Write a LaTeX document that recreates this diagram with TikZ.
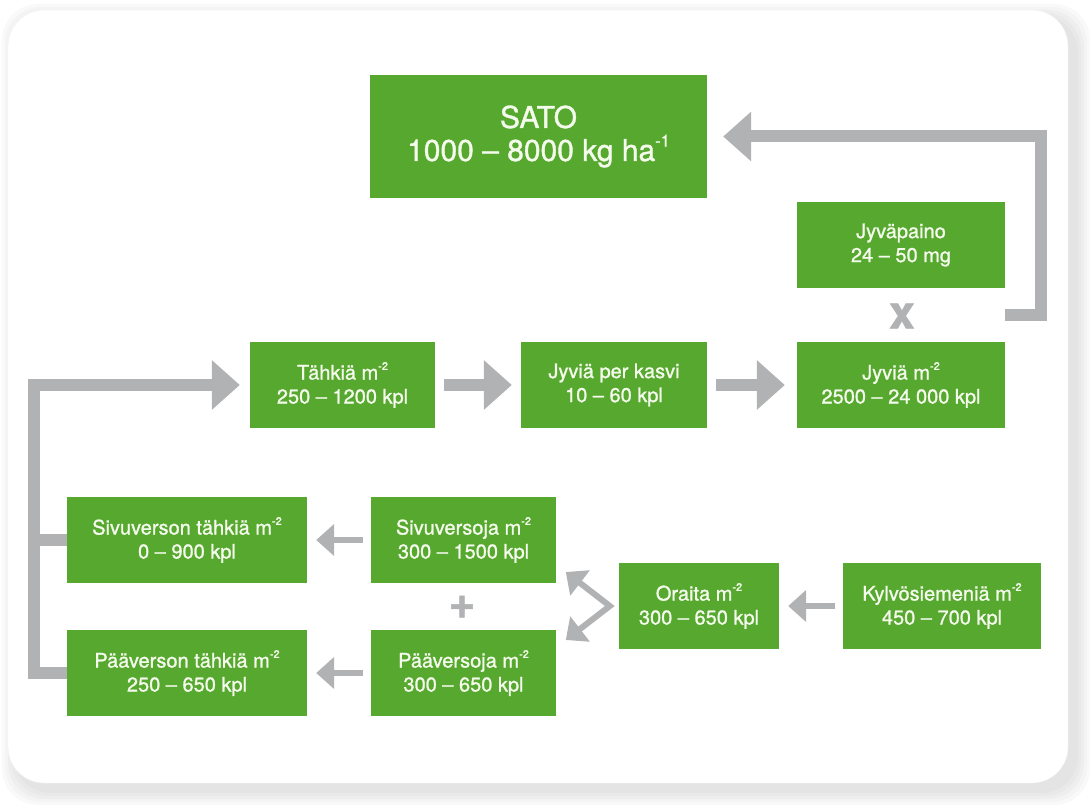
\documentclass[tikz,border=0pt]{standalone}
\usepackage{fontspec}
\setmainfont{TeX Gyre Heros}[FakeBold=1.2]
\usepackage{xcolor}
\usepackage{tikz}
\usetikzlibrary{arrows.meta,positioning,calc}
\definecolor{SatoGreen}  {HTML}{56A82E}
\definecolor{ArrowGrey}  {HTML}{B1B2B4}
\definecolor{BoxText}    {HTML}{F4FAEC}
\definecolor{ShadowGrey} {HTML}{9A9A9A}
\makeatletter
\newcommand{\potenssi}[1]{\raisebox{.48em}{\fontsize{\fpeval{.55*\f@size}}{0}\selectfont#1}}
\makeatother

\begin{document}
\begin{tikzpicture}[x=1pt,y=1pt,
  box/.style={fill=SatoGreen,text=BoxText,minimum height=86pt,inner sep=0pt,
              align=center,font=\fontsize{20}{24}\selectfont},
  bigarrow/.style={draw=ArrowGrey,line width=12pt,-{Triangle[length=28pt,width=48pt]}},
  bigline/.style={draw=ArrowGrey,line width=12pt},
  smallarrow/.style={draw=ArrowGrey,line width=6pt,-{Triangle[length=18pt,width=31pt]}},
  sign/.style={text=ArrowGrey,inner sep=0pt,font=\fontsize{46}{46}\selectfont\bfseries}]
  \useasboundingbox (0,0) rectangle (1092,809);
  % panel with its shadow
  \foreach \s in {2,5,8,11,14}
    \fill[ShadowGrey,opacity=0.06,rounded corners=36pt]
      (16-\s,18-\s) rectangle (1076+\s,791+\s);
  \filldraw[fill=white,draw=gray!12,rounded corners=36pt] (8,26) rectangle (1068,799);

  % boxes
  \node[box,minimum width=337pt,minimum height=123pt,font=\fontsize{30}{33}\selectfont]
    (sato) at (538.5,672.5) {SATO\\1000 – 8000 kg ha\potenssi{-1}};
  \node[box,minimum width=208pt] (paino) at (901,564) {Jyväpaino\\24 – 50 mg};
  \node[box,minimum width=185pt] (tahkiat) at (342.5,424) {Tähkiä m\potenssi{-2}\\250 – 1200 kpl};
  \node[box,minimum width=186pt] (kasvi) at (614,424) {Jyviä per kasvi\\10 – 60 kpl};
  \node[box,minimum width=208pt] (jyvat) at (901,424) {Jyviä m\potenssi{-2}\\2500 – 24 000 kpl};
  \node[box,minimum width=240pt] (sivutahk) at (187,269) {Sivuverson tähkiä m\potenssi{-2}\\0 – 900 kpl};
  \node[box,minimum width=185pt] (sivuv) at (463.5,269) {Sivuversoja m\potenssi{-2}\\300 – 1500 kpl};
  \node[box,minimum width=240pt] (paatahk) at (187,136) {Pääverson tähkiä m\potenssi{-2}\\250 – 650 kpl};
  \node[box,minimum width=185pt] (paav) at (463.5,136) {Pääversoja m\potenssi{-2}\\300 – 650 kpl};
  \node[box,minimum width=160pt] (oraat) at (699,203) {Oraita m\potenssi{-2}\\300 – 650 kpl};
  \node[box,minimum width=198pt] (siemen) at (942,203) {Kylvösiemeniä m\potenssi{-2}\\450 – 700 kpl};

  % x and +
  \node[sign] (kerto) at (902,493) {x};
  \node[sign] (plus) at (462,202) {+};

  % top row
  \draw[bigarrow] ([xshift=9pt]tahkiat.east) -- ([xshift=-9pt]kasvi.west);
  \draw[bigarrow] ([xshift=9pt]kasvi.east) -- ([xshift=-12pt]jyvat.west);
  \coordinate (tulo) at ($(jyvat.north east)!0.5!(paino.south east)$);
  \draw[bigarrow] (tulo) -- ++(36,0) |- ([xshift=16pt]sato.east);

  % loop back to Tähkiä
  \coordinate (silmukka) at (33.5,424);
  \draw[bigarrow] (paatahk.west) -| (silmukka) -- ([xshift=-10pt]tahkiat.west);
  \draw[bigline] (sivutahk.west) -- (sivutahk.west -| silmukka);

  % lower rows
  \draw[smallarrow] ([xshift=-8pt]sivuv.west) -- ([xshift=9pt]sivutahk.east);
  \draw[smallarrow] ([xshift=-8pt]paav.west) -- ([xshift=9pt]paatahk.east);
  \draw[smallarrow] ([xshift=-8pt]siemen.west) -- ([xshift=9pt]oraat.east);
  \coordinate (haara) at ([xshift=-9pt]oraat.west);
  \draw[smallarrow,{Triangle[length=18pt,width=31pt]}-{Triangle[length=18pt,width=31pt]}]
    ([shift={(-44pt,34pt)}]haara) -- (haara) -- ([shift={(-44pt,-34pt)}]haara);
\end{tikzpicture}
\end{document}
